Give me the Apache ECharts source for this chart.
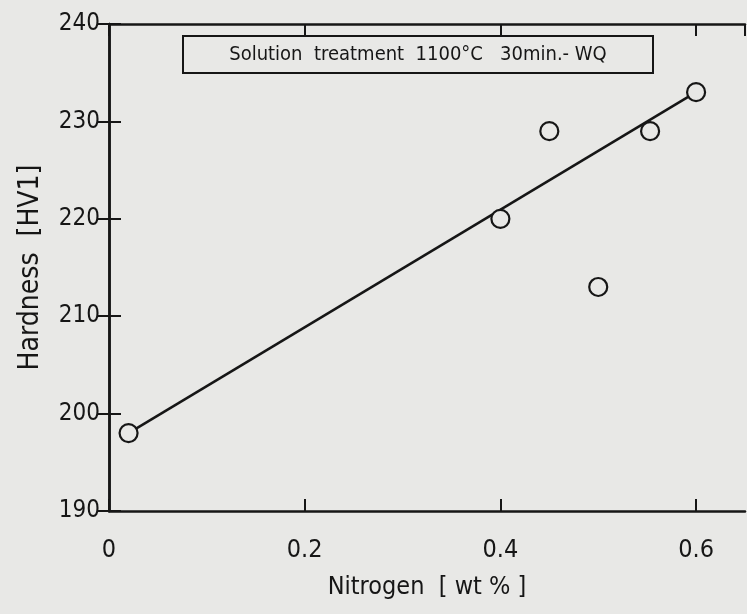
<!DOCTYPE html>
<html>
<head>
<meta charset="utf-8">
<script src="https://cdn.jsdelivr.net/npm/echarts@6/dist/echarts.min.js"></script>
<style>
  html, body { margin: 0; padding: 0; background: #e8e8e6; }
  #chart { width: 747px; height: 614px; }
</style>
</head>
<body>
<div id="chart"></div>
<script>
// measured points (wt % N, HV1)
const nitrogen = [0.02, 0.4, 0.45, 0.5, 0.553, 0.6]
const hardness = [198, 220, 229, 213, 229, 233]
// fitted line end points
const fitX = [0.02, 0.6]
const fitY = [198, 233]
const xTicks = [0, 0.2, 0.4, 0.6]
const yTicks = [190, 200, 210, 220, 230, 240]
const noteText = 'Solution  treatment  1100°C   30min.- WQ'

const bg = '#e8e8e6'
const ink = '#161616'
const font = 'DejaVu Sans Condensed'

const chart = echarts.init(document.getElementById('chart'))

const tickStyle = { show: true, inside: true, length: 12, lineStyle: { color: ink, width: 2 } }

chart.setOption({
  backgroundColor: bg,
  animation: false,
  grid: { left: 109, top: 24, right: 2, bottom: 103 },
  xAxis: [
    {
      type: 'value',
      min: 0,
      max: 0.65,
      interval: 0.2,
      name: 'Nitrogen  [ wt % ]',
      nameLocation: 'middle',
      nameGap: 64,
      nameTextStyle: { fontFamily: font, fontSize: 25, color: ink },
      axisLine: { lineStyle: { color: ink, width: 2.5 } },
      axisTick: tickStyle,
      splitLine: { show: false },
      axisLabel: {
        margin: 27,
        fontFamily: font,
        fontSize: 25,
        color: ink,
        showMaxLabel: false,
        formatter: v => (xTicks.includes(Math.round(v * 10) / 10) ? String(Math.round(v * 10) / 10) : '')
      }
    },
    {
      type: 'value',
      position: 'top',
      min: 0,
      max: 0.65,
      interval: 0.2,
      axisLine: { lineStyle: { color: ink, width: 2.5 } },
      axisTick: tickStyle,
      axisLabel: { show: false },
      splitLine: { show: false }
    }
  ],
  yAxis: [
    {
      type: 'value',
      min: yTicks[0],
      max: yTicks[yTicks.length - 1],
      interval: 10,
      name: 'Hardness  [HV1]',
      nameLocation: 'middle',
      nameGap: 64,
      nameTextStyle: { fontFamily: font, fontSize: 28, color: ink },
      axisLine: { lineStyle: { color: ink, width: 2.5 } },
      axisTick: tickStyle,
      splitLine: { show: false },
      axisLabel: { margin: 9, fontFamily: font, fontSize: 24, color: ink }
    },
    {
      type: 'value',
      position: 'right',
      min: yTicks[0],
      max: yTicks[yTicks.length - 1],
      interval: 10,
      axisLine: { lineStyle: { color: ink, width: 2.5 } },
      axisTick: tickStyle,
      axisLabel: { show: false },
      splitLine: { show: false }
    }
  ],
  graphic: [
    {
      type: 'rect',
      shape: { x: 183, y: 36, width: 470, height: 37 },
      style: { fill: 'none', stroke: ink, lineWidth: 2 }
    },
    {
      type: 'text',
      x: 418,
      y: 55,
      style: {
        text: noteText,
        fontFamily: font,
        fontSize: 20,
        fill: ink,
        align: 'center',
        verticalAlign: 'middle'
      }
    }
  ],
  series: [
    {
      type: 'line',
      data: fitX.map((x, i) => [x, fitY[i]]),
      symbol: 'none',
      lineStyle: { color: ink, width: 2.5 },
      z: 2
    },
    {
      type: 'scatter',
      data: nitrogen.map((x, i) => [x, hardness[i]]),
      symbol: 'circle',
      symbolSize: 18,
      itemStyle: { color: bg, borderColor: ink, borderWidth: 2.2, opacity: 1 },
      z: 3
    }
  ]
})
</script>
</body>
</html>
